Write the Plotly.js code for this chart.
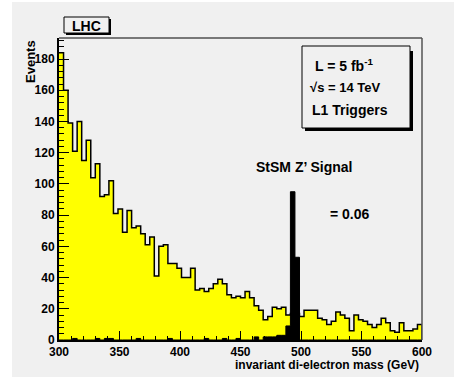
<!DOCTYPE html>
<html><head><meta charset="utf-8">
<script src="https://cdn.plot.ly/plotly-3.0.1.min.js"></script>
<style>html,body{margin:0;padding:0;background:#fff;} #chart{width:454px;height:377px;}</style>
</head><body><div id="chart"></div>
<script>
// Histogram binning: 80 bins from 300 to 600 GeV
const binLow = 300, binHigh = 600, nBins = 80;

// Background (yellow) histogram: events per bin
const background = [
  184,160,139,121,140,115,128,104,113,92,
  93,102,81,84,69,83,72,73,68,61,
  66,41,60,61,49,49,46,40,40,46,
  32,33,31,33,36,39,36,29,27,28,
  27,31,27,22,19,13,15,21,20,21,
  16,17,17,15,19,19,19,14,13,10,
  12,18,16,14,6,16,13,12,10,8,
  10,14,11,6,5,11,6,6,7,10
];

// StSM Z' signal (black) histogram: events per bin
const signal = [
  0,0,0,1,0,0,0,0,1,0,
  1,1,0,0,0,0,0,1,0,0,
  0,0,0,0,1,0,0,0,0,0,
  0,0,1,0,0,0,1,0,0,1,
  0,0,0,2,0,2,2,2,3,3,
  9,95,53,0,0,0,0,0,0,0,
  0,0,0,0,0,0,0,0,0,0,
  0,0,0,0,0,0,0,0,0,0
];

const xTicks = [300,350,400,450,500,550,600];
const yTicks = [0,20,40,60,80,100,120,140,160,180];

// plot-area geometry in pixels
const L = 59, T = 38, W = 363, H = 302;
const px2x = p => (p - L) / W;
const py2y = p => (T + H - p) / H;

const edges = Array.from({length: nBins + 1}, (_, i) => binLow + i * (binHigh - binLow) / nBins);
const stepX = edges.concat([binHigh]);
const stepY = v => v.concat([v[v.length - 1], 0]);

const FONT = "Liberation Sans, Arial, Helvetica, sans-serif";
const BG = '#f0f0f0';

const traces = [
  {x: stepX, y: stepY(background), type: 'scatter', mode: 'lines',
   line: {shape: 'hv', color: '#000', width: 1.5}, fill: 'tozeroy', fillcolor: '#ffff00',
   hoverinfo: 'skip', showlegend: false},
  {x: stepX, y: stepY(signal), type: 'scatter', mode: 'lines',
   line: {shape: 'hv', color: '#000', width: 1}, fill: 'tozeroy', fillcolor: '#000',
   hoverinfo: 'skip', showlegend: false}
];

function rect(x0, y0, x1, y1, fill, lineColor, lw) {
  return {type: 'rect', xref: 'paper', yref: 'paper', layer: 'above',
    x0: px2x(x0), x1: px2x(x1), y0: py2y(y1), y1: py2y(y0),
    fillcolor: fill, line: {color: lineColor || fill, width: lw === undefined ? 0 : lw}};
}
function lineShape(x0, y0, x1, y1, color, w) {
  return {type: 'line', xref: 'paper', yref: 'paper', layer: 'above',
    x0: px2x(x0), x1: px2x(x1), y0: py2y(y0), y1: py2y(y1), line: {color: color, width: w}};
}

const shapes = [
  rect(0, 0, 12, 377, '#ffffff'),
  rect(0, 0, 454, 2, '#ffffff'),
  lineShape(59, 38, 422, 38, '#000', 1),
  lineShape(422, 38, 422, 340, '#555', 1.5),
  // LHC label box with shadow
  rect(66, 19, 111, 35, '#000'),
  rect(64, 17, 109, 33, BG, '#000', 1),
  // info box with shadow
  rect(305, 51, 413, 131, '#000'),
  rect(302, 46, 410, 128, BG, '#000', 1)
];

function ann(text, px, py, size, xanchor, extra) {
  return Object.assign({text: text, xref: 'paper', yref: 'paper', x: px2x(px), y: py2y(py),
    xanchor: xanchor || 'center', yanchor: 'middle', showarrow: false,
    font: {family: FONT, size: size, color: '#000', weight: 700}}, extra || {});
}

const annotations = [
  ann('LHC', 86.5, 25.5, 14),
  ann('L = 5 fb<sup>-1</sup>', 313, 65, 14, 'left'),
  ann('√s = 14 TeV', 308, 88, 13, 'left'),
  ann('L1 Triggers', 310, 110, 14, 'left'),
  ann('StSM Z’ Signal', 304, 167, 14),
  ann('= 0.06', 350, 214, 14),
  ann('invariant di-electron mass (GeV)', 421, 365, 12, 'right'),
  Object.assign(ann('Events', 30.5, 38, 13), {textangle: -90, yanchor: 'top'})
];

const layout = {
  width: 454, height: 377,
  margin: {l: L, r: 454 - L - W, t: T, b: 377 - T - H, pad: 0},
  paper_bgcolor: BG, plot_bgcolor: BG,
  showlegend: false,
  xaxis: {range: [binLow, binHigh], tickvals: xTicks, ticktext: xTicks.map(String),
    ticks: 'inside', ticklen: 9, tickwidth: 1, tickcolor: '#000',
    minor: {dtick: 10, tick0: 300, ticks: 'inside', ticklen: 4, tickwidth: 1, tickcolor: '#000'},
    showline: true, linecolor: '#000', linewidth: 2, mirror: false,
    showgrid: false, zeroline: false,
    tickfont: {family: FONT, size: 12, color: '#000', weight: 700}},
  yaxis: {range: [0, 193.5], tickvals: yTicks, ticktext: yTicks.map(String),
    ticks: 'inside', ticklen: 10, tickwidth: 1, tickcolor: '#000',
    minor: {dtick: 4, tick0: 0, ticks: 'inside', ticklen: 5, tickwidth: 1, tickcolor: '#000'},
    showline: true, linecolor: '#000', linewidth: 2, mirror: false,
    showgrid: false, zeroline: false,
    tickfont: {family: FONT, size: 12, color: '#000', weight: 700}},
  shapes: shapes,
  annotations: annotations
};

Plotly.newPlot('chart', traces, layout, {staticPlot: true, displayModeBar: false});
</script>
</body></html>
